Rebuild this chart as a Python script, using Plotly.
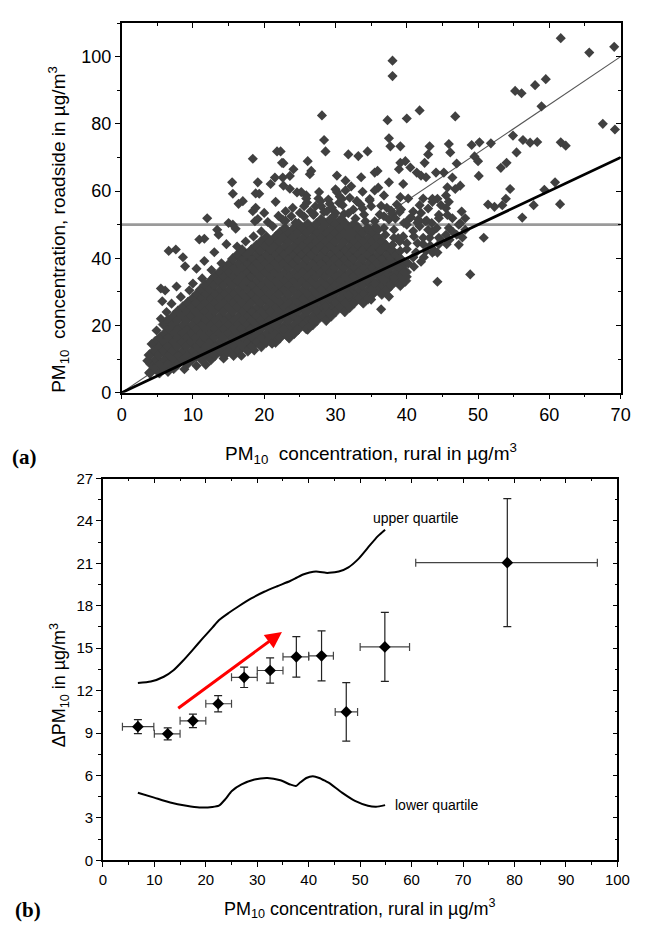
import plotly.graph_objects as go

W, H = 645, 931

# ---------------- panel (a): daily PM10, rural vs roadside ----------------
# dense core of the cloud, column by column (rural) with roadside values
rural_core = [
    4.0, 4.1, 3.9,
    4.7, 4.8, 4.6, 4.7,
    5.3, 5.4, 5.2, 5.3, 5.4,
    6.0, 6.1, 5.9, 6.0, 6.1, 5.9,
    6.6, 6.7, 6.5, 6.6, 6.7, 6.5,
    7.3, 7.4, 7.2, 7.3, 7.4, 7.2, 7.3,
    7.9, 8.0, 7.8, 7.9, 8.0, 7.8, 7.9,
    8.6, 8.7, 8.5, 8.6, 8.7, 8.5, 8.6,
    9.2, 9.3, 9.1, 9.2, 9.3, 9.1, 9.2, 9.3,
    9.9, 10.0, 9.8, 9.9, 10.0, 9.8, 9.9, 10.0,
    10.5, 10.6, 10.4, 10.5, 10.6, 10.4, 10.5, 10.6,
    11.2, 11.3, 11.1, 11.2, 11.3, 11.1, 11.2, 11.3, 11.1,
    11.8, 11.9, 11.7, 11.8, 11.9, 11.7, 11.8, 11.9, 11.7,
    12.5, 12.6, 12.4, 12.5, 12.6, 12.4, 12.5, 12.6, 12.4, 12.5,
    13.1, 13.2, 13.0, 13.1, 13.2, 13.0, 13.1, 13.2, 13.0, 13.1,
    13.8, 13.9, 13.7, 13.8, 13.9, 13.7, 13.8, 13.9, 13.7, 13.8,
    14.4, 14.5, 14.3, 14.4, 14.5, 14.3, 14.4, 14.5, 14.3, 14.4, 14.5,
    15.1, 15.2, 15.0, 15.1, 15.2, 15.0, 15.1, 15.2, 15.0, 15.1, 15.2,
    15.7, 15.8, 15.6, 15.7, 15.8, 15.6, 15.7, 15.8, 15.6, 15.7, 15.8, 15.6,
    16.4, 16.5, 16.3, 16.4, 16.5, 16.3, 16.4, 16.5, 16.3, 16.4, 16.5, 16.3,
    17.0, 17.1, 16.9, 17.0, 17.1, 16.9, 17.0, 17.1, 16.9, 17.0, 17.1, 16.9,
    17.7, 17.8, 17.6, 17.7, 17.8, 17.6, 17.7, 17.8, 17.6, 17.7, 17.8, 17.6,
    18.3, 18.4, 18.2, 18.3, 18.4, 18.2, 18.3, 18.4, 18.2, 18.3, 18.4, 18.2,
    19.0, 19.1, 18.9, 19.0, 19.1, 18.9, 19.0, 19.1, 18.9, 19.0, 19.1, 18.9,
    19.6, 19.7, 19.5, 19.6, 19.7, 19.5, 19.6, 19.7, 19.5, 19.6, 19.7, 19.5, 19.6,
    20.3, 20.4, 20.2, 20.3, 20.4, 20.2, 20.3, 20.4, 20.2, 20.3, 20.4, 20.2, 20.3,
    20.9, 21.0, 20.8, 20.9, 21.0, 20.8, 20.9, 21.0, 20.8, 20.9, 21.0, 20.8,
    21.6, 21.7, 21.5, 21.6, 21.7, 21.5, 21.6, 21.7, 21.5, 21.6, 21.7, 21.5, 21.6,
    22.2, 22.3, 22.1, 22.2, 22.3, 22.1, 22.2, 22.3, 22.1, 22.2, 22.3, 22.1, 22.2,
    22.9, 23.0, 22.8, 22.9, 23.0, 22.8, 22.9, 23.0, 22.8, 22.9, 23.0, 22.8, 22.9,
    23.5, 23.6, 23.4, 23.5, 23.6, 23.4, 23.5, 23.6, 23.4, 23.5, 23.6, 23.4, 23.5,
    24.2, 24.3, 24.1, 24.2, 24.3, 24.1, 24.2, 24.3, 24.1, 24.2, 24.3, 24.1, 24.2,
    24.8, 24.9, 24.7, 24.8, 24.9, 24.7, 24.8, 24.9, 24.7, 24.8, 24.9, 24.7, 24.8,
    25.5, 25.6, 25.4, 25.5, 25.6, 25.4, 25.5, 25.6, 25.4, 25.5, 25.6, 25.4,
    26.1, 26.2, 26.0, 26.1, 26.2, 26.0, 26.1, 26.2, 26.0, 26.1, 26.2, 26.0, 26.1,
    26.8, 26.9, 26.7, 26.8, 26.9, 26.7, 26.8, 26.9, 26.7, 26.8, 26.9, 26.7,
    27.4, 27.5, 27.3, 27.4, 27.5, 27.3, 27.4, 27.5, 27.3, 27.4, 27.5, 27.3,
    28.1, 28.2, 28.0, 28.1, 28.2, 28.0, 28.1, 28.2, 28.0, 28.1, 28.2, 28.0,
    28.7, 28.8, 28.6, 28.7, 28.8, 28.6, 28.7, 28.8, 28.6, 28.7, 28.8, 28.6,
    29.4, 29.5, 29.3, 29.4, 29.5, 29.3, 29.4, 29.5, 29.3, 29.4, 29.5, 29.3,
    30.0, 30.1, 29.9, 30.0, 30.1, 29.9, 30.0, 30.1, 29.9, 30.0, 30.1,
    30.7, 30.8, 30.6, 30.7, 30.8, 30.6, 30.7, 30.8, 30.6, 30.7, 30.8,
    31.3, 31.4, 31.2, 31.3, 31.4, 31.2, 31.3, 31.4, 31.2, 31.3, 31.4,
    32.0, 32.1, 31.9, 32.0, 32.1, 31.9, 32.0, 32.1, 31.9, 32.0,
    32.6, 32.7, 32.5, 32.6, 32.7, 32.5, 32.6, 32.7, 32.5, 32.6,
    33.3, 33.4, 33.2, 33.3, 33.4, 33.2, 33.3, 33.4, 33.2,
    33.9, 34.0, 33.8, 33.9, 34.0, 33.8, 33.9, 34.0, 33.8,
    34.6, 34.7, 34.5, 34.6, 34.7, 34.5, 34.6, 34.7, 34.5,
    35.2, 35.3, 35.1, 35.2, 35.3, 35.1, 35.2, 35.3,
    35.9, 36.0, 35.8, 35.9, 36.0, 35.8, 35.9,
    36.5, 36.6, 36.4, 36.5, 36.6, 36.4, 36.5,
    37.2, 37.3, 37.1, 37.2, 37.3, 37.1,
    37.8, 37.9, 37.7, 37.8, 37.9,
    38.5, 38.6, 38.4, 38.5,
    39.1, 39.2, 39.0, 39.1,
    39.8, 39.9, 39.7,
]
roadside_core = [
    6.0, 8.6, 11.2,
    7.3, 9.9, 12.5, 15.1,
    6.0, 8.6, 11.2, 13.8, 16.4,
    7.3, 9.9, 12.5, 15.1, 17.7, 20.3,
    8.6, 11.2, 13.8, 16.4, 19.0, 21.6,
    7.3, 9.9, 12.5, 15.1, 17.7, 20.3, 22.9,
    8.6, 11.2, 13.8, 16.4, 19.0, 21.6, 24.2,
    9.9, 12.5, 15.1, 17.7, 20.3, 22.9, 25.5,
    8.6, 11.2, 13.8, 16.4, 19.0, 21.6, 24.2, 26.8,
    9.9, 12.5, 15.1, 17.7, 20.3, 22.9, 25.5, 28.1,
    11.2, 13.8, 16.4, 19.0, 21.6, 24.2, 26.8, 29.4,
    9.9, 12.5, 15.1, 17.7, 20.3, 22.9, 25.5, 28.1, 30.7,
    11.2, 13.8, 16.4, 19.0, 21.6, 24.2, 26.8, 29.4, 32.0,
    9.9, 12.5, 15.1, 17.7, 20.3, 22.9, 25.5, 28.1, 30.7, 33.3,
    11.2, 13.8, 16.4, 19.0, 21.6, 24.2, 26.8, 29.4, 32.0, 34.6,
    12.5, 15.1, 17.7, 20.3, 22.9, 25.5, 28.1, 30.7, 33.3, 35.9,
    11.2, 13.8, 16.4, 19.0, 21.6, 24.2, 26.8, 29.4, 32.0, 34.6, 37.2,
    12.5, 15.1, 17.7, 20.3, 22.9, 25.5, 28.1, 30.7, 33.3, 35.9, 38.5,
    11.2, 13.8, 16.4, 19.0, 21.6, 24.2, 26.8, 29.4, 32.0, 34.6, 37.2, 39.8,
    12.5, 15.1, 17.7, 20.3, 22.9, 25.5, 28.1, 30.7, 33.3, 35.9, 38.5, 41.1,
    13.8, 16.4, 19.0, 21.6, 24.2, 26.8, 29.4, 32.0, 34.6, 37.2, 39.8, 42.4,
    12.5, 15.1, 17.7, 20.3, 22.9, 25.5, 28.1, 30.7, 33.3, 35.9, 38.5, 41.1,
    13.8, 16.4, 19.0, 21.6, 24.2, 26.8, 29.4, 32.0, 34.6, 37.2, 39.8, 42.4,
    15.1, 17.7, 20.3, 22.9, 25.5, 28.1, 30.7, 33.3, 35.9, 38.5, 41.1, 43.7,
    13.8, 16.4, 19.0, 21.6, 24.2, 26.8, 29.4, 32.0, 34.6, 37.2, 39.8, 42.4, 45.0,
    15.1, 17.7, 20.3, 22.9, 25.5, 28.1, 30.7, 33.3, 35.9, 38.5, 41.1, 43.7, 46.3,
    16.4, 19.0, 21.6, 24.2, 26.8, 29.4, 32.0, 34.6, 37.2, 39.8, 42.4, 45.0,
    15.1, 17.7, 20.3, 22.9, 25.5, 28.1, 30.7, 33.3, 35.9, 38.5, 41.1, 43.7, 46.3,
    16.4, 19.0, 21.6, 24.2, 26.8, 29.4, 32.0, 34.6, 37.2, 39.8, 42.4, 45.0, 47.6,
    17.7, 20.3, 22.9, 25.5, 28.1, 30.7, 33.3, 35.9, 38.5, 41.1, 43.7, 46.3, 48.9,
    16.4, 19.0, 21.6, 24.2, 26.8, 29.4, 32.0, 34.6, 37.2, 39.8, 42.4, 45.0, 47.6,
    17.7, 20.3, 22.9, 25.5, 28.1, 30.7, 33.3, 35.9, 38.5, 41.1, 43.7, 46.3, 48.9,
    19.0, 21.6, 24.2, 26.8, 29.4, 32.0, 34.6, 37.2, 39.8, 42.4, 45.0, 47.6, 50.2,
    20.3, 22.9, 25.5, 28.1, 30.7, 33.3, 35.9, 38.5, 41.1, 43.7, 46.3, 48.9,
    19.0, 21.6, 24.2, 26.8, 29.4, 32.0, 34.6, 37.2, 39.8, 42.4, 45.0, 47.6, 50.2,
    20.3, 22.9, 25.5, 28.1, 30.7, 33.3, 35.9, 38.5, 41.1, 43.7, 46.3, 48.9,
    21.6, 24.2, 26.8, 29.4, 32.0, 34.6, 37.2, 39.8, 42.4, 45.0, 47.6, 50.2,
    22.9, 25.5, 28.1, 30.7, 33.3, 35.9, 38.5, 41.1, 43.7, 46.3, 48.9, 51.5,
    21.6, 24.2, 26.8, 29.4, 32.0, 34.6, 37.2, 39.8, 42.4, 45.0, 47.6, 50.2,
    22.9, 25.5, 28.1, 30.7, 33.3, 35.9, 38.5, 41.1, 43.7, 46.3, 48.9, 51.5,
    24.2, 26.8, 29.4, 32.0, 34.6, 37.2, 39.8, 42.4, 45.0, 47.6, 50.2,
    25.5, 28.1, 30.7, 33.3, 35.9, 38.5, 41.1, 43.7, 46.3, 48.9, 51.5,
    24.2, 26.8, 29.4, 32.0, 34.6, 37.2, 39.8, 42.4, 45.0, 47.6, 50.2,
    25.5, 28.1, 30.7, 33.3, 35.9, 38.5, 41.1, 43.7, 46.3, 48.9,
    26.8, 29.4, 32.0, 34.6, 37.2, 39.8, 42.4, 45.0, 47.6, 50.2,
    28.1, 30.7, 33.3, 35.9, 38.5, 41.1, 43.7, 46.3, 48.9,
    26.8, 29.4, 32.0, 34.6, 37.2, 39.8, 42.4, 45.0, 47.6,
    28.1, 30.7, 33.3, 35.9, 38.5, 41.1, 43.7, 46.3, 48.9,
    29.4, 32.0, 34.6, 37.2, 39.8, 42.4, 45.0, 47.6,
    30.7, 33.3, 35.9, 38.5, 41.1, 43.7, 46.3,
    29.4, 32.0, 34.6, 37.2, 39.8, 42.4, 45.0,
    30.7, 33.3, 35.9, 38.5, 41.1, 43.7,
    32.0, 34.6, 37.2, 39.8, 42.4,
    33.3, 35.9, 38.5, 41.1,
    32.0, 34.6, 37.2, 39.8,
    33.3, 35.9, 38.5,
]

# fringe of the cloud and isolated days
rural_extra = [
    3.9, 3.6, 4.2, 4.9, 5.5, 6.3, 5.7, 5.5, 6.1, 7.7,
    7.0, 8.3, 9.5, 10.0, 10.5, 11.6, 11.3, 12.6, 13.0, 14.0,
    14.7, 13.6, 10.9, 11.6, 12.0, 13.4, 6.6, 7.6, 8.6, 8.9,
    15.0, 15.6, 16.0, 15.5, 15.6, 16.4, 17.0, 16.2, 17.4, 18.5,
    18.7, 19.1, 18.4, 18.8, 19.6, 20.0, 21.2, 21.6, 22.6, 23.0,
    23.8, 25.0, 24.6, 25.9, 26.5, 27.2, 28.0, 29.0, 29.5, 30.5,
    31.0, 32.0, 32.5, 33.5, 34.0, 35.0, 35.5, 36.2, 36.8, 37.5,
    38.2, 38.8, 39.5, 40.0, 40.9, 38.2, 18.4, 21.8, 22.7, 19.1,
    20.9, 19.3, 18.8, 22.6, 23.6, 24.1, 26.1, 26.4, 26.6, 22.3,
    22.5, 21.5, 22.7, 23.6, 25.2, 25.9, 27.7, 28.1, 28.4, 28.6,
    30.2, 31.4, 30.2, 31.4, 31.8, 33.2, 34.5, 33.6, 35.5, 35.9,
    35.5, 36.8, 37.5, 37.5, 37.7, 39.1, 37.3, 38.0, 38.0, 40.0,
    41.8, 43.2, 43.0, 42.5, 38.9, 39.1, 39.8, 40.5, 41.4, 42.0,
    42.7, 44.1, 39.5, 39.1, 40.2, 42.3, 43.6, 45.5, 45.5, 44.5,
    41.8, 40.9, 6.5, 8.8, 10.5, 11.8, 14.3, 16.8, 18.6, 21.1,
    23.2, 22.7, 25.9, 26.4, 26.8, 28.6, 29.1, 31.4, 31.8, 35.0,
    36.4, 37.5, 35.0, 35.5, 36.8, 40.0, 44.3, 36.4, 37.3, 40.0,
    40.9, 39.1, 42.7, 43.6, 44.5, 42.3, 41.0, 42.0, 41.5, 43.0,
    61.6, 65.6, 69.1, 55.2, 56.1, 58.0, 59.5, 58.9, 46.8, 67.5,
    69.2, 54.9, 56.3, 57.3, 58.3, 61.6, 62.3, 51.8, 49.1, 50.2,
    49.5, 50.0, 45.9, 46.1, 47.0, 55.4, 53.2, 54.0, 50.1, 46.4,
    45.2, 45.7, 46.8, 47.5, 54.5, 53.9, 53.4, 52.3, 51.4, 59.3,
    60.8, 57.8, 61.5, 56.2, 50.8, 48.9, 48.2, 47.5, 48.2, 47.0,
    43.6, 44.3, 44.8, 45.7, 44.5, 43.6, 44.5, 45.9, 45.5, 43.9,
    44.3, 46.0, 47.3, 46.4, 47.3, 47.7, 45.9, 43.2, 42.3, 40.9,
    23.0, 24.4, 25.6, 26.9, 28.4, 29.8, 31.2, 32.8, 34.2, 35.6,
    24.0, 26.0, 27.6, 29.2, 30.6, 33.0, 34.8, 36.4, 37.8, 39.0,
    20.5, 22.0, 30.0, 32.2, 33.8, 36.0, 38.6, 40.3, 41.5, 42.8,
    36.0, 37.0, 38.0, 39.0, 40.0, 41.0, 41.8, 42.6, 43.5, 44.2,
    40.2, 41.3, 42.4, 43.3, 44.8, 45.6, 46.5, 47.8, 39.6, 38.2,
    36.8, 38.0, 39.2, 40.6, 41.6, 42.0, 43.0, 39.6, 38.4, 37.2,
    25.6, 27.0, 27.9, 28.8, 30.0, 30.9, 31.8, 33.0, 33.8, 34.8,
]
roadside_extra = [
    5.8, 9.5, 14.5, 18.5, 22.0, 24.0, 27.2, 31.0, 30.4, 31.6,
    26.5, 28.5, 30.5, 32.5, 36.9, 39.2, 34.0, 36.5, 41.8, 38.5,
    44.2, 47.0, 45.6, 45.8, 51.9, 48.5, 42.2, 42.6, 40.3, 37.6,
    50.5, 50.0, 48.8, 62.6, 59.2, 56.2, 57.0, 43.5, 45.0, 46.5,
    51.0, 51.7, 54.0, 55.0, 48.0, 53.5, 49.5, 56.8, 51.5, 54.0,
    52.5, 53.5, 59.6, 58.7, 54.0, 55.5, 55.5, 57.5, 55.0, 56.5,
    55.8, 58.0, 54.5, 56.0, 53.0, 55.5, 51.0, 53.0, 49.0, 51.5,
    48.5, 46.0, 46.5, 50.0, 48.1, 46.1, 69.6, 71.8, 68.3, 62.6,
    62.1, 59.2, 59.3, 64.0, 64.5, 66.5, 68.9, 65.0, 66.0, 71.8,
    68.4, 64.0, 61.6, 60.7, 59.7, 57.8, 59.7, 82.5, 75.2, 71.8,
    64.6, 63.1, 59.7, 60.2, 70.9, 70.4, 71.8, 64.1, 65.5, 66.0,
    60.2, 58.7, 62.6, 75.7, 73.3, 73.3, 81.1, 94.2, 98.8, 81.6,
    84.0, 73.3, 70.9, 68.4, 66.5, 68.4, 68.9, 67.0, 65.5, 64.6,
    64.1, 65.5, 62.1, 58.2, 57.8, 57.8, 56.8, 58.7, 54.9, 52.9,
    55.8, 53.9, 6.2, 7.0, 8.0, 8.3, 10.2, 11.0, 12.6, 14.6,
    17.0, 18.9, 18.9, 19.9, 21.4, 25.7, 23.8, 26.7, 29.1, 27.7,
    24.8, 28.6, 30.6, 32.5, 33.5, 34.5, 33.0, 36.4, 38.3, 42.7,
    40.3, 42.2, 42.2, 41.7, 44.2, 46.1, 37.5, 39.0, 44.5, 48.5,
    105.5, 101.2, 102.9, 89.8, 89.1, 91.5, 93.3, 85.2, 82.2, 80.0,
    78.3, 76.5, 75.2, 74.4, 74.6, 74.5, 73.5, 74.2, 73.7, 74.5,
    70.3, 68.9, 74.0, 71.5, 68.2, 71.5, 66.9, 68.4, 64.5, 64.0,
    65.5, 61.1, 60.6, 61.6, 60.6, 57.7, 55.8, 55.3, 56.0, 60.4,
    62.6, 55.8, 56.1, 52.1, 46.1, 35.2, 51.9, 50.4, 48.5, 47.0,
    57.7, 57.7, 55.8, 52.9, 51.9, 48.0, 46.1, 49.0, 47.0, 42.2,
    41.7, 45.5, 44.0, 51.9, 50.0, 53.9, 56.8, 46.1, 44.2, 40.3,
    51.2, 50.6, 52.4, 52.9, 53.8, 52.6, 53.2, 51.8, 51.0, 49.4,
    55.0, 56.6, 57.8, 56.2, 58.4, 57.0, 57.6, 55.6, 54.2, 53.8,
    50.8, 52.6, 60.5, 61.4, 59.8, 61.0, 56.0, 51.6, 50.6, 51.2,
    48.5, 47.0, 44.0, 45.0, 44.5, 46.5, 49.5, 51.0, 50.5, 49.0,
    38.5, 41.8, 40.3, 43.8, 45.5, 44.2, 47.8, 46.2, 35.8, 34.2,
    52.5, 53.2, 54.5, 52.2, 51.5, 53.5, 54.8, 50.5, 51.8, 55.0,
    55.5, 53.2, 57.0, 54.0, 53.5, 57.6, 53.4, 57.0, 54.8, 57.2,
]
assert len(rural_core) == len(roadside_core)
assert len(rural_extra) == len(roadside_extra)

limit_x = [0, 70]
limit_y = [50, 50]          # daily limit value
ref_x = [0, 70]
ref_hi = [0, 100]           # thin reference line
ref_one = [0, 70]           # 1:1 line

# ---------------- panel (b): roadside increment per rural class ----------------
bin_rural = [6.8, 12.6, 17.5, 22.4, 27.45, 32.5, 37.6, 42.5, 47.3, 54.8, 78.6]
delta_pm = [9.45, 8.94, 9.86, 11.07, 12.94, 13.42, 14.39, 14.46, 10.49, 15.09, 21.05]
xerr_minus = [3.0, 2.6, 2.5, 2.4, 2.45, 2.5, 2.6, 2.5, 2.15, 4.8, 17.8]
xerr_plus = [3.1, 2.4, 2.5, 2.6, 2.55, 2.5, 2.4, 2.3, 2.2, 4.8, 17.5]
yerr = [0.5, 0.42, 0.48, 0.58, 0.72, 0.89, 1.43, 1.77, 2.07, 2.44, 4.53]

upper_x = [6.8, 9.31, 11.83, 13.72, 15.61, 17.5, 19.39, 21.28, 22.54, 24.43, 26.32,
           28.84, 31.35, 33.87, 36.39, 37.65, 38.91, 40.17, 41.43, 43.32, 43.95,
           45.84, 47.73, 49.62, 51.51, 53.4, 54.85]
upper_y = [12.54, 12.64, 12.98, 13.44, 14.13, 14.9, 15.69, 16.45, 16.98, 17.49, 17.95,
           18.52, 18.99, 19.38, 19.75, 19.98, 20.21, 20.35, 20.42, 20.33, 20.33,
           20.42, 20.72, 21.3, 22.11, 22.91, 23.38]
lower_x = [6.8, 9.97, 13.09, 16.24, 18.76, 21.28, 22.54, 23.8, 25.06, 26.95, 29.46,
           31.98, 34.5, 36.39, 37.52, 38.28, 39.54, 40.8, 42.06, 43.32, 43.95,
           46.47, 48.99, 51.51, 53.08, 54.85]
lower_y = [4.78, 4.43, 4.09, 3.86, 3.74, 3.77, 3.86, 4.32, 4.9, 5.36, 5.71,
           5.82, 5.66, 5.36, 5.25, 5.48, 5.82, 5.94, 5.82, 5.59, 5.47,
           4.78, 4.2, 3.86, 3.79, 3.9]
arrow_from = [14.35, 10.67]
arrow_to = [34.8, 16.15]
upper_label = [60.8, 24.2]
lower_label = [64.9, 3.9]

# ---------------- figure ----------------
FONT = "Liberation Sans, Arial, sans-serif"
SERIF = "Liberation Serif, Times New Roman, serif"


def fx(p):
    return p / W


def fy(p):
    return 1 - p / H


xa_dom = [fx(120), fx(633.3)]
ya_dom = [fy(391.7), fy(14.3)]
xb_dom = [fx(100.7), fx(630)]
yb_dom = [fy(869), fy(479.3)]

fig = go.Figure()

# panel (a)
fig.add_trace(go.Scatter(x=limit_x, y=limit_y, mode="lines",
                         line=dict(color="#9a9a9a", width=2.6), hoverinfo="skip"))
fig.add_trace(go.Scatter(x=ref_x, y=ref_hi, mode="lines",
                         line=dict(color="#555555", width=1.1), hoverinfo="skip"))
fig.add_trace(go.Scatter(x=rural_core, y=roadside_core, mode="markers",
                         marker=dict(symbol="diamond", size=8.6, color="#404040",
                                     line=dict(width=0.6, color="#404040"))))
fig.add_trace(go.Scatter(x=rural_extra, y=roadside_extra, mode="markers",
                         marker=dict(symbol="diamond", size=7.8, color="#404040",
                                     line=dict(width=0))))
fig.add_trace(go.Scatter(x=ref_x, y=ref_one, mode="lines",
                         line=dict(color="black", width=2.8), hoverinfo="skip"))
# helpers so that the mirrored axes (top / right) are drawn
fig.add_trace(go.Scatter(x=[0], y=[0], xaxis="x3", yaxis="y", mode="markers",
                         marker=dict(opacity=0), hoverinfo="skip"))
fig.add_trace(go.Scatter(x=[0], y=[0], xaxis="x", yaxis="y3", mode="markers",
                         marker=dict(opacity=0), hoverinfo="skip"))

# panel (b)
fig.add_trace(go.Scatter(x=upper_x, y=upper_y, xaxis="x2", yaxis="y2", mode="lines",
                         line=dict(color="black", width=2, shape="spline", smoothing=0.6),
                         hoverinfo="skip"))
fig.add_trace(go.Scatter(x=lower_x, y=lower_y, xaxis="x2", yaxis="y2", mode="lines",
                         line=dict(color="black", width=2, shape="spline", smoothing=0.6),
                         hoverinfo="skip"))
fig.add_trace(go.Scatter(
    x=bin_rural, y=delta_pm, xaxis="x2", yaxis="y2", mode="markers",
    marker=dict(symbol="diamond", size=9, color="black"),
    error_x=dict(type="data", symmetric=False, array=xerr_plus, arrayminus=xerr_minus,
                 color="#444444", thickness=1.2, width=4),
    error_y=dict(type="data", array=yerr, color="#222222", thickness=1.2, width=4),
))
fig.add_trace(go.Scatter(x=[0], y=[0], xaxis="x4", yaxis="y2", mode="markers",
                         marker=dict(opacity=0), hoverinfo="skip"))
fig.add_trace(go.Scatter(x=[0], y=[0], xaxis="x2", yaxis="y4", mode="markers",
                         marker=dict(opacity=0), hoverinfo="skip"))


def axis(rng, dtick, minor_dtick, size, ticks="outside", labels=True, **kw):
    d = dict(range=rng, autorange=False, dtick=dtick, tick0=0,
             showline=True, linecolor="black", linewidth=1.5,
             showgrid=False, zeroline=False,
             ticks=ticks, ticklen=5, tickwidth=1.3, tickcolor="black",
             showticklabels=labels,
             tickfont=dict(family=FONT, size=size, color="black"),
             minor=dict(dtick=minor_dtick, tick0=0, ticks=ticks, ticklen=3,
                        tickwidth=1.1, tickcolor="black", showgrid=False))
    d.update(kw)
    return d


fig.update_layout(
    width=W, height=H, margin=dict(l=0, r=0, t=0, b=0),
    paper_bgcolor="white", plot_bgcolor="white", showlegend=False,
    xaxis=axis([0, 70], 10, 5, 18, domain=xa_dom, anchor="y"),
    yaxis=axis([0, 110], 20, 10, 18, domain=ya_dom, anchor="x"),
    xaxis3=axis([0, 70], 10, 5, 18, ticks="inside", labels=False,
                overlaying="x", anchor="y", side="top"),
    yaxis3=axis([0, 110], 20, 10, 18, ticks="inside", labels=False,
                overlaying="y", anchor="x", side="right"),
    xaxis2=axis([0, 100], 10, 5, 15, domain=xb_dom, anchor="y2"),
    yaxis2=axis([0, 27], 3, 1.5, 15, domain=yb_dom, anchor="x2"),
    xaxis4=axis([0, 100], 10, 5, 15, ticks="inside", labels=False,
                overlaying="x2", anchor="y2", side="top"),
    yaxis4=axis([0, 27], 3, 1.5, 15, ticks="inside", labels=False,
                overlaying="y2", anchor="x2", side="right"),
)

NB = "\u00a0"
annotations = [
    dict(text="PM<sub>10</sub>" + NB + NB + "concentration, rural in µg/m<sup>3</sup>",
         x=fx(376.6), y=fy(454), xref="paper", yref="paper",
         xanchor="center", yanchor="middle", showarrow=False,
         font=dict(family=FONT, size=19, color="black")),
    dict(text="PM<sub>10</sub>" + NB + NB + "concentration, roadside in µg/m<sup>3</sup>",
         x=fx(55), y=fy(225), xref="paper", yref="paper", textangle=-90,
         xanchor="center", yanchor="middle", showarrow=False,
         font=dict(family=FONT, size=19, color="black")),
    dict(text="<b>(a)</b>", x=fx(20), y=fy(457), xref="paper", yref="paper",
         xanchor="center", yanchor="middle", showarrow=False,
         font=dict(family=SERIF, size=21, color="black")),
    dict(text="PM<sub>10</sub>" + NB + "concentration, rural in µg/m<sup>3</sup>",
         x=fx(365), y=fy(918), xref="paper", yref="paper",
         xanchor="center", yanchor="middle", showarrow=False,
         font=dict(family=FONT, size=18, color="black")),
    dict(text="ΔPM<sub>10</sub> in µg/m<sup>3</sup>",
         x=fx(56), y=fy(690), xref="paper", yref="paper", textangle=-90,
         xanchor="center", yanchor="middle", showarrow=False,
         font=dict(family=FONT, size=18, color="black")),
    dict(text="<b>(b)</b>", x=fx(24), y=fy(920), xref="paper", yref="paper",
         xanchor="center", yanchor="middle", showarrow=False,
         font=dict(family=SERIF, size=21, color="black")),
    dict(text="upper quartile", x=upper_label[0], y=upper_label[1], xref="x2", yref="y2",
         showarrow=False, font=dict(family=FONT, size=14, color="black")),
    dict(text="lower quartile", x=lower_label[0], y=lower_label[1], xref="x2", yref="y2",
         showarrow=False, font=dict(family=FONT, size=14, color="black")),
    dict(text="", x=arrow_to[0], y=arrow_to[1], ax=arrow_from[0], ay=arrow_from[1],
         xref="x2", yref="y2", axref="x2", ayref="y2", showarrow=True,
         arrowhead=2, arrowsize=1.1, arrowwidth=3, arrowcolor="#ff0000", standoff=0),
]
fig.update_layout(annotations=annotations)

fig.write_html("out.html",
               config={"displayModeBar": False},
               post_script="document.body.style.margin='0';"
                           "document.body.style.padding='0';")
